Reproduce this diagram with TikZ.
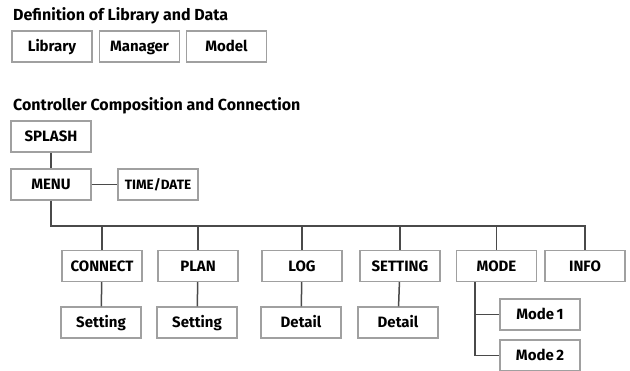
\documentclass[tikz,border=0pt]{standalone}
\usepackage{fontspec}
\setmainfont{Fira Sans}
\begin{document}
\begin{tikzpicture}[x=1pt,y=-1pt,
  box/.style={draw=boxgray, line width=1.3pt, fill=white, minimum width=80pt, minimum height=31pt,
    inner sep=0pt, text height=14pt, text depth=3pt, font=\fontsize{15}{17}\selectfont\bfseries, text=black},
  conn/.style={draw=linegray, line width=1.5pt},
  title/.style={anchor=base west, inner sep=0pt, font=\fontsize{16}{18}\selectfont\bfseries}]
\definecolor{boxgray}{HTML}{A0A0A0}
\definecolor{linegray}{HTML}{4A4A4A}
\useasboundingbox (0,0) rectangle (630,371);
\node[title] (t1) at (13,21) {Definition of Library and Data};
\node[box] (lib) at (52,46.5) {Library\hspace{14pt}};
\node[box] (man) at (139.5,46.5) {Manager};
\node[box] (mod) at (226.5,46.5) {Model};
\node[title] (t2) at (13,111) {Controller Composition and Connection};
\node[box] (splash) at (51,136.5) {SPLASH};
\node[box] (menu) at (51,184.5) {MENU};
\node[box, font=\fontsize{13.5}{15}\selectfont\bfseries] (time) at (158,184.5) {TIME/DATE};
\node[box] (connect) at (102,266) {CONNECT};
\node[box] (plan) at (198,266) {PLAN};
\node[box] (log) at (302,266) {LOG};
\node[box] (setting) at (400,266) {SETTING};
\node[box] (mode) at (496.5,266) {MODE};
\node[box] (info) at (585,266) {INFO};
\node[box] (cs) at (101,322.5) {Setting};
\node[box] (ps) at (197,322.5) {Setting};
\node[box] (ld) at (301,322.5) {Detail};
\node[box] (sd) at (398,322.5) {Detail};
\node[box] (m1) at (540,314.5) {Mode\,1};
\node[box] (m2) at (540,355.5) {Mode\,2};
\coordinate (bus) at (51,226);
\coordinate (mx) at (475,0);
\draw[conn] (splash) -- (menu);
\draw[conn] (menu) -- (time);
\draw[conn] (menu.south) -- (menu.south |- bus) -| (info.north);
\foreach \n in {connect,plan,log,setting,mode}{\draw[conn] (\n.north) -- (\n.north |- bus);}
\draw[conn] (connect) -- (cs);
\draw[conn] (plan) -- (ps);
\draw[conn] (log) -- (ld);
\draw[conn] (setting) -- (sd);
\draw[conn] (mx |- mode.south) |- (m2.west);
\draw[conn] (mx |- m1.west) -- (m1.west);
\end{tikzpicture}
\end{document}
